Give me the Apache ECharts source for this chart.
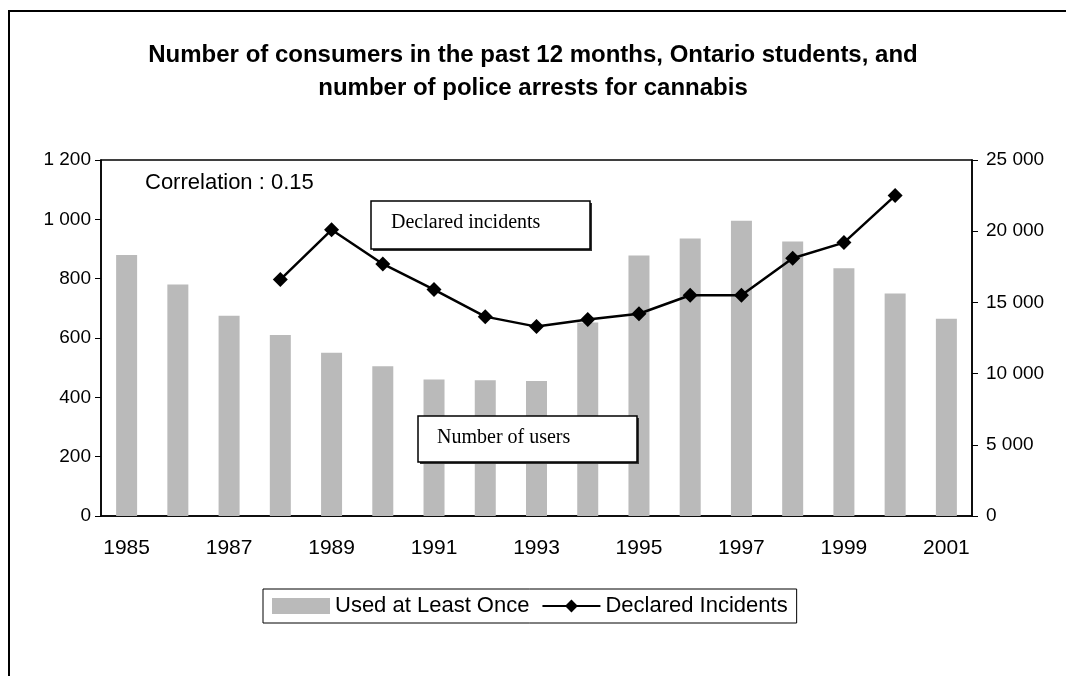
<!DOCTYPE html>
<html>
<head>
<meta charset="utf-8">
<script src="https://cdn.jsdelivr.net/npm/echarts@6/dist/echarts.min.js"></script>
<style>
  html, body { margin: 0; padding: 0; background: #fff; }
  #chart { width: 1066px; height: 676px; }
</style>
</head>
<body>
<div id="chart"></div>
<script>
// data
var years = ['1985', '1986', '1987', '1988', '1989', '1990', '1991', '1992', '1993',
  '1994', '1995', '1996', '1997', '1998', '1999', '2000', '2001']
var usedAtLeastOnce = [880, 780, 675, 610, 550, 505, 460, 458, 455,
  652, 878, 935, 995, 925, 835, 750, 665]
var declaredIncidents = [null, null, null, 16600, 20100, 17700, 15900, 14000, 13300,
  13800, 14200, 15500, 15500, 18100, 19200, 22500, null]
var leftTicks = { min: 0, max: 1200, interval: 200 }
var rightTicks = { min: 0, max: 25000, interval: 5000 }

var sans = 'Liberation Sans, Arial, sans-serif'
var serif = 'Liberation Serif, Times New Roman, serif'

function spaced (v) {
  return String(v).replace(/\B(?=(\d{3})+(?!\d))/g, ' ')
}

var chart = echarts.init(document.getElementById('chart'))
chart.setOption({
  animation: false,
  backgroundColor: '#fff',
  textStyle: { fontFamily: sans, color: '#000' },
  title: {
    text: 'Number of consumers in the past 12 months, Ontario students, and\nnumber of police arrests for cannabis',
    left: 'center',
    top: 34,
    textStyle: { fontSize: 24, fontWeight: 'bold', lineHeight: 33, color: '#000', fontFamily: sans }
  },
  grid: {
    left: 101,
    right: 94,
    top: 160,
    bottom: 160,
    show: true,
    borderColor: '#000',
    borderWidth: 1.5
  },
  legend: {
    bottom: 53,
    left: 263,
    itemGap: 12,
    itemWidth: 58,
    itemHeight: 16,
    padding: [6, 9],
    borderColor: '#000',
    borderWidth: 1,
    textStyle: { fontSize: 22, color: '#000', fontFamily: sans },
    data: [
      { name: 'Used at Least Once', icon: 'rect' },
      { name: 'Declared Incidents' }
    ]
  },
  xAxis: {
    type: 'category',
    data: years,
    boundaryGap: true,
    axisLine: { lineStyle: { color: '#000', width: 1.5 } },
    axisTick: { interval: 0, length: 7, lineStyle: { color: '#000' } },
    axisLabel: { interval: 1, margin: 22, fontSize: 21, color: '#000' }
  },
  yAxis: [
    {
      type: 'value',
      min: leftTicks.min,
      max: leftTicks.max,
      interval: leftTicks.interval,
      axisLine: { show: true, lineStyle: { color: '#000', width: 1.5 } },
      axisTick: { show: true, length: 6, lineStyle: { color: '#000' } },
      splitLine: { show: false },
      axisLabel: { fontSize: 19, color: '#000', margin: 10, formatter: spaced }
    },
    {
      type: 'value',
      min: rightTicks.min,
      max: rightTicks.max,
      interval: rightTicks.interval,
      axisLine: { show: true, lineStyle: { color: '#000', width: 1.5 } },
      axisTick: { show: true, length: 6, lineStyle: { color: '#000' } },
      splitLine: { show: false },
      axisLabel: { fontSize: 19, color: '#000', margin: 14, formatter: spaced }
    }
  ],
  series: [
    {
      name: 'Used at Least Once',
      type: 'bar',
      yAxisIndex: 0,
      barWidth: 21,
      data: usedAtLeastOnce,
      itemStyle: { color: '#bababa' }
    },
    {
      name: 'Declared Incidents',
      type: 'line',
      yAxisIndex: 1,
      data: declaredIncidents,
      symbol: 'diamond',
      symbolSize: 15,
      lineStyle: { color: '#000', width: 2.5 },
      itemStyle: { color: '#000' }
    }
  ],
  graphic: [
    {
      type: 'polyline',
      z: 100,
      shape: { points: [[9, 676], [9, 11], [1066, 11]] },
      style: { fill: 'none', stroke: '#000', lineWidth: 2 },
      silent: true
    },
    {
      type: 'text',
      z: 100,
      left: 145,
      top: 172,
      style: { text: 'Correlation : 0.15', fontSize: 22, fill: '#000', fontFamily: sans }
    },
    {
      type: 'rect',
      z: 100,
      shape: { x: 373, y: 203, width: 219, height: 48 },
      style: { fill: '#333' }
    },
    {
      type: 'rect',
      z: 101,
      shape: { x: 371, y: 201, width: 219, height: 48 },
      style: { fill: '#fff', stroke: '#000', lineWidth: 1.5 }
    },
    {
      type: 'text',
      z: 102,
      left: 391,
      top: 213,
      style: { text: 'Declared incidents', fontSize: 20, fill: '#000', fontFamily: serif }
    },
    {
      type: 'rect',
      z: 100,
      shape: { x: 420, y: 418, width: 219, height: 46 },
      style: { fill: '#333' }
    },
    {
      type: 'rect',
      z: 101,
      shape: { x: 418, y: 416, width: 219, height: 46 },
      style: { fill: '#fff', stroke: '#000', lineWidth: 1.5 }
    },
    {
      type: 'text',
      z: 102,
      left: 437,
      top: 428,
      style: { text: 'Number of users', fontSize: 20, fill: '#000', fontFamily: serif }
    }
  ]
})
</script>
</body>
</html>
